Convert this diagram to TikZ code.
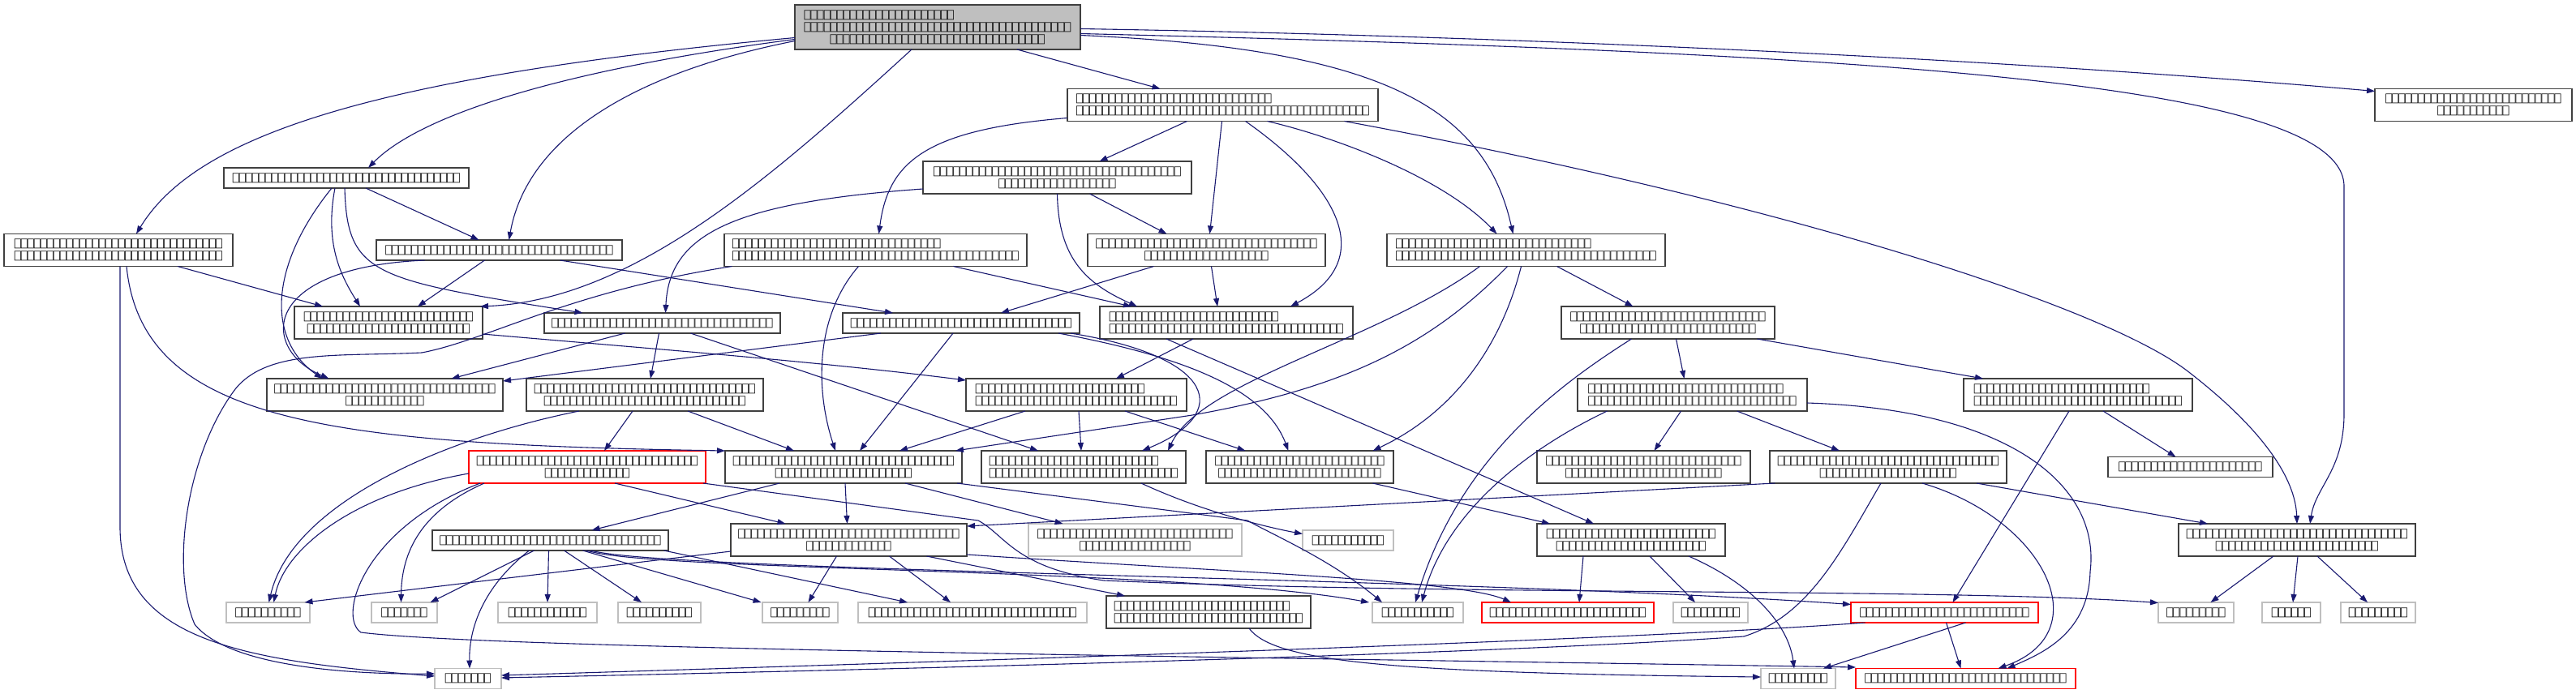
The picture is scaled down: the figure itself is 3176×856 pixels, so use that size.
\documentclass[tikz,border=0pt]{standalone}
\usepackage{fontspec}
\usepackage{xcolor}
\usepackage{tikz}
\usetikzlibrary{arrows.meta}
\newfontfamily\tofufont[FakeStretch=1.04]{DejaVu Sans Mono}
\definecolor{edgeblue}{RGB}{25,25,112}
\definecolor{nodeline}{RGB}{64,64,64}
\definecolor{sysline}{RGB}{191,191,191}
\definecolor{rootfill}{RGB}{191,191,191}
\definecolor{redline}{RGB}{255,0,0}
\newcommand\tofu[1]{\foreach\x in {1,...,#1}{⎕}}

\begin{document}
\begin{tikzpicture}[x=1pt, y=-1pt,
    hfile/.style={draw=nodeline, fill=white, line width=1.2pt, inner sep=0pt, outer sep=0pt,
                  minimum height=40, align=center, font=\tofufont\fontsize{12.8pt}{15pt}\selectfont},
    oneline/.style={minimum height=25},
    rootfile/.style={hfile, fill=rootfill},
    sysfile/.style={hfile, oneline, draw=sysline},
    redfile/.style={hfile, draw=redline},
    inc/.style={draw=edgeblue, line width=1.1pt, -{Triangle[length=10pt, width=7pt]}}
]
    \fill[white] (0,0) rectangle (3176,856);

    \node[rootfile, minimum width=352, minimum height=55, align=left] (root) at (1156,33.5) {\tofu{23}\\\tofu{41}\\\hspace*{32pt}\tofu{33}};
    \node[hfile, minimum width=383, align=left] (n1) at (1507.5,129.5) {\tofu{30}\\\tofu{45}};
    \node[hfile, minimum width=243] (n2) at (3049.5,129.5) {\tofu{27}\\\tofu{11}};
    \node[hfile, oneline, minimum width=302] (n3) at (427,219.5) {\tofu{35}};
    \node[hfile, minimum width=331] (n4) at (1303.5,219) {\tofu{38}\\\tofu{18}};
    \node[hfile, minimum width=282] (n5) at (146,308.5) {\tofu{32}\\\tofu{32}};
    \node[hfile, oneline, minimum width=303] (n6) at (615.5,308.5) {\tofu{35}};
    \node[hfile, minimum width=373, align=left] (n7) at (1079.5,308.5) {\tofu{32}\\\tofu{44}};
    \node[hfile, minimum width=293] (n8) at (1487.5,308.5) {\tofu{34}\\\tofu{19}};
    \node[hfile, minimum width=343, align=left] (n9) at (1881.5,308.5) {\tofu{30}\\\tofu{40}};
    \node[hfile, minimum width=232] (n10) at (479,398) {\tofu{26}\\\tofu{25}};
    \node[hfile, oneline, minimum width=291] (n11) at (816.5,398.5) {\tofu{34}};
    \node[hfile, oneline, minimum width=292] (n12) at (1185,398.5) {\tofu{34}};
    \node[hfile, minimum width=312, align=left] (n13) at (1512,398) {\tofu{26}\\\tofu{36}};
    \node[hfile, minimum width=263] (n14) at (2056.5,398) {\tofu{30}\\\tofu{27}};
    \node[hfile, minimum width=291] (n15) at (474.5,487) {\tofu{34}\\\tofu{12}};
    \node[hfile, minimum width=292] (n16) at (795,487) {\tofu{34}\\\tofu{31}};
    \node[hfile, minimum width=272, align=left] (n49) at (1327,487) {\tofu{26}\\\tofu{31}};
    \node[hfile, minimum width=283, align=left] (n48) at (2086.5,487) {\tofu{30}\\\tofu{32}};
    \node[hfile, minimum width=282, align=left] (n42) at (2562,487) {\tofu{27}\\\tofu{32}};
    \node[redfile, minimum width=292] (n17) at (724,576) {\tofu{34}\\\tofu{13}};
    \node[hfile, minimum width=292] (n24) at (1040,576) {\tofu{34}\\\tofu{21}};
    \node[hfile, minimum width=252, align=left] (n25) at (1336,576) {\tofu{26}\\\tofu{29}};
    \node[hfile, minimum width=231] (n26) at (1602.5,576) {\tofu{26}\\\tofu{25}};
    \node[hfile, minimum width=263] (n33) at (2026.5,576) {\tofu{30}\\\tofu{24}};
    \node[hfile, minimum width=292] (n34) at (2328,576) {\tofu{34}\\\tofu{21}};
    \node[hfile, oneline, minimum width=203] (n43) at (2700.5,576) {\tofu{22}};
    \node[hfile, oneline, minimum width=291] (n18) at (678.5,666.5) {\tofu{34}};
    \node[hfile, minimum width=291] (n27) at (1046.5,666) {\tofu{34}\\\tofu{13}};
    \node[hfile, draw=sysline, minimum width=263] (n28) at (1399.5,666) {\tofu{30}\\\tofu{17}};
    \node[sysfile, minimum width=112] (n32) at (1662,666.5) {\tofu{11}};
    \node[hfile, minimum width=232] (n35) at (2011,666) {\tofu{26}\\\tofu{23}};
    \node[hfile, minimum width=292] (n44) at (2832,666) {\tofu{34}\\\tofu{25}};
    \node[sysfile, minimum width=103] (n19) at (330.5,755.5) {\tofu{10}};
    \node[sysfile, minimum width=81] (n20) at (498.5,755.5) {\tofu{7}};
    \node[sysfile, minimum width=122] (n21) at (675,755.5) {\tofu{12}};
    \node[sysfile, minimum width=102] (n22) at (813,755.5) {\tofu{10}};
    \node[sysfile, minimum width=93] (n29) at (986.5,755.5) {\tofu{9}};
    \node[sysfile, minimum width=282] (n30) at (1199,755.5) {\tofu{32}};
    \node[hfile, minimum width=252, align=left] (n31) at (1490,755) {\tofu{27}\\\tofu{29}};
    \node[sysfile, minimum width=112] (n36) at (1748,755.5) {\tofu{11}};
    \node[redfile, oneline, minimum width=212] (n37) at (1933,755.5) {\tofu{24}};
    \node[sysfile, minimum width=92] (n38) at (2109,755.5) {\tofu{9}};
    \node[redfile, oneline, minimum width=231] (n39) at (2397.5,755.5) {\tofu{26}};
    \node[sysfile, minimum width=93] (n45) at (2707.5,755.5) {\tofu{9}};
    \node[sysfile, minimum width=72] (n46) at (2825,755.5) {\tofu{6}};
    \node[sysfile, minimum width=92] (n47) at (2932,755.5) {\tofu{9}};
    \node[sysfile, minimum width=82] (n23) at (577,837) {\tofu{7}};
    \node[sysfile, minimum width=92] (n40) at (2217,837) {\tofu{9}};
    \node[redfile, oneline, minimum width=271] (n41) at (2423.5,837) {\tofu{31}};

    \draw[inc] ([xshift=98]root.south) -- ([xshift=-77]n1.north);
    \draw[inc] ([yshift=-2]root.east) .. controls (1900,45) and (2500,75) .. ([yshift=17]n2.west);
    \draw[inc] ([yshift=-8]root.east) .. controls (2300,65) and (2890,100) .. (2890,230) -- (2890,510) .. controls (2890,580) and (2855,600) .. ([xshift=16]n44.north);
    \draw[inc] ([yshift=-10]root.east) .. controls (1700,60) and (1830,130) .. ([xshift=-16]n9.north);
    \draw[inc] ([yshift=-15]root.west) .. controls (700,85) and (520,140) .. ([xshift=27]n3.north);
    \draw[inc] ([yshift=-13]root.west) .. controls (450,95) and (240,170) .. ([xshift=22]n5.north);
    \draw[inc] ([yshift=-17]root.west) .. controls (780,90) and (650,170) .. ([xshift=12]n6.north);
    \draw[inc] ([xshift=-32]root.south) .. controls (950,220) and (780,370) .. ([xshift=113]n10.north);

    \draw[inc] ([xshift=-44]n1.south) -- ([xshift=52]n4.north);
    \draw[inc] ([xshift=-1]n1.south) -- ([xshift=4]n8.north);
    \draw[inc] ([yshift=-16]n1.west) .. controls (1140,160) and (1095,200) .. ([xshift=4]n7.north);
    \draw[inc] ([xshift=28]n1.south) .. controls (1650,230) and (1700,320) .. ([xshift=79]n13.north);
    \draw[inc] ([xshift=55]n1.south) .. controls (1650,170) and (1780,220) .. ([xshift=-36]n9.north);
    \draw[inc] ([xshift=150]n1.south) .. controls (2200,250) and (2600,380) .. (2700,460) .. controls (2790,530) and (2830,590) .. (n44.north);

    \draw[inc] ([xshift=24]n3.south) -- ([xshift=-25]n6.north);
    \draw[inc] ([xshift=-14]n3.south) .. controls (400,300) and (420,340) .. ([xshift=-35]n10.north);
    \draw[inc] ([xshift=-2]n3.south) .. controls (428,340) and (460,345) .. ([xshift=-98]n11.north);
    \draw[inc] ([xshift=-18]n3.south) .. controls (330,330) and (330,420) .. ([xshift=-77]n15.north);

    \draw[inc] ([xshift=40]n4.south) -- ([xshift=-49]n8.north);
    \draw[inc] (n4.south) .. controls (1305,320) and (1340,350) .. ([xshift=-110]n13.north);
    \draw[inc] ([yshift=-14]n4.west) .. controls (900,250) and (825,290) .. ([xshift=4]n11.north);

    \draw[inc] ([xshift=73]n5.south) -- ([xshift=-81]n10.north);
    \draw[inc] ([xshift=10]n5.south) .. controls (175,520) and (400,548) .. (n24.north west);
    \draw[inc] ([xshift=2]n5.south) -- (148,650) .. controls (148,790) and (300,815) .. ([yshift=3]n23.west);

    \draw[inc] ([xshift=-18]n6.south) -- ([xshift=36]n10.north);
    \draw[inc] ([xshift=75]n6.south) -- ([xshift=-84]n12.north);
    \draw[inc] ([xshift=-92]n6.south) .. controls (320,330) and (320,430) .. ([xshift=-69]n15.north);

    \draw[inc] ([xshift=96]n7.south) -- ([xshift=-117]n13.north);
    \draw[inc] ([xshift=-21]n7.south) .. controls (1005,390) and (1005,480) .. ([xshift=-10]n24.north);
    \draw[inc] ([xshift=-177]n7.south) .. controls (700,360) and (600,420) .. (520,435) .. controls (420,440) and (330,430) .. (290,480) .. controls (230,560) and (210,700) .. (240,770) .. controls (280,820) and (420,832) .. ([yshift=6]n23.west);

    \draw[inc] ([xshift=6]n8.south) -- ([xshift=-11]n13.north);
    \draw[inc] ([xshift=-65]n8.south) -- ([xshift=49]n12.north);

    \draw[inc] ([xshift=38]n9.south) -- ([xshift=-43]n14.north);
    \draw[inc] ([xshift=-6]n9.south) .. controls (1850,430) and (1790,510) .. ([xshift=90]n26.north);
    \draw[inc] ([xshift=-23]n9.south) .. controls (1760,430) and (1650,480) .. (1470,512) -- ([xshift=138]n24.north);
    \draw[inc] ([xshift=-57]n9.south) .. controls (1700,420) and (1480,470) .. ([xshift=104]n25.north);

    \draw[inc] ([yshift=-14]n10.east) .. controls (800,430) and (1000,445) .. ([yshift=18]n49.west);

    \draw[inc] ([xshift=-46]n11.south) -- ([xshift=82]n15.north);
    \draw[inc] ([xshift=-4]n11.south) -- ([xshift=7]n16.north);
    \draw[inc] ([xshift=35]n11.south) -- ([xshift=-56]n25.north);

    \draw[inc] ([xshift=-99]n12.south) -- ([yshift=17]n15.east);
    \draw[inc] ([xshift=-10]n12.south) -- ([xshift=20]n24.north);
    \draw[inc] ([xshift=135]n12.south) .. controls (1500,440) and (1520,510) .. ([xshift=72]n25.north);
    \draw[inc] ([xshift=120]n12.south) .. controls (1460,440) and (1560,480) .. ([xshift=-14]n26.north);

    \draw[inc] ([xshift=-41]n13.south) -- ([xshift=49]n49.north);
    \draw[inc] ([xshift=-74]n13.south) -- ([xshift=-46]n35.north);

    \draw[inc] ([xshift=-45]n14.south) .. controls (1930,470) and (1800,560) .. ([xshift=-3]n36.north);
    \draw[inc] ([xshift=110]n14.south) -- ([xshift=-117]n42.north);
    \draw[inc] ([xshift=10]n14.south) -- ([xshift=-10]n48.north);

    \draw[inc] ([xshift=-15]n16.south) -- ([xshift=21]n17.north);
    \draw[inc] ([xshift=-81]n16.south) .. controls (550,540) and (360,620) .. ([xshift=1]n19.north);
    \draw[inc] ([xshift=53]n16.south) -- ([xshift=-61]n24.north);

    \draw[inc] ([yshift=-8]n17.west) .. controls (430,610) and (350,680) .. ([xshift=7]n19.north);
    \draw[inc] ([xshift=-127]n17.south) .. controls (520,630) and (495,680) .. ([xshift=-4]n20.north);
    \draw[inc] ([xshift=34]n17.south) -- ([xshift=-78]n27.north);
    \draw[inc] ([xshift=-132]n17.south) .. controls (450,650) and (415,760) .. (445,780) .. controls (600,800) and (1500,810) .. ([yshift=14]n41.west);
    \draw[inc] ([xshift=143]n17.south) -- (1206,642) .. controls (1240,660) and (1250,700) .. (1361,716) .. controls (1800,735) and (2400,725) .. ([yshift=12]n45.west);

    \draw[inc] ([xshift=-20]n18.south) -- ([xshift=32]n20.north);
    \draw[inc] ([xshift=-2]n18.south) -- (n21.north);
    \draw[inc] ([xshift=17]n18.south) -- ([xshift=-22]n22.north);
    \draw[inc] ([xshift=-26]n18.south) .. controls (600,720) and (578,770) .. ([xshift=2]n23.north);
    \draw[inc] ([xshift=40]n18.south) -- ([xshift=-48]n29.north);
    \draw[inc] ([xshift=140]n18.south) -- ([xshift=-80]n30.north);
    \draw[inc] ([xshift=45]n18.south) .. controls (800,705) and (1450,700) .. ([xshift=-60]n36.north);
    \draw[inc] ([xshift=50]n18.south) .. controls (820,705) and (1800,712) .. ([yshift=10]n39.west);

    \draw[inc] ([xshift=-79]n24.south) -- ([xshift=51]n18.north);
    \draw[inc] ([xshift=2]n24.south) -- ([xshift=-2]n27.north);
    \draw[inc] ([xshift=76]n24.south) -- ([xshift=-89]n28.north);
    \draw[inc] ([xshift=140]n24.south) -- (1538,642) .. controls (1570,660) and (1640,690) .. ([xshift=-44]n36.north);

    \draw[inc] ([xshift=-63]n49.south) -- ([xshift=69]n24.north);
    \draw[inc] ([xshift=3]n49.south) -- ([xshift=-3]n25.north);
    \draw[inc] ([xshift=60]n49.south) -- ([xshift=-67]n26.north);

    \draw[inc] ([xshift=71]n25.south) .. controls (1480,630) and (1560,650) .. ([yshift=8]n32.west);
    \draw[inc] ([xshift=90]n26.south) -- ([xshift=-100]n35.north);

    \draw[inc] ([yshift=-14]n27.west) -- ([xshift=45]n19.north);
    \draw[inc] ([xshift=-15]n27.south) -- ([xshift=10]n29.north);
    \draw[inc] ([xshift=50]n27.south) -- ([xshift=-27]n30.north);
    \draw[inc] ([xshift=96]n27.south) -- ([xshift=-103]n31.north);
    \draw[inc] ([yshift=-18]n27.east) .. controls (1500,705) and (1800,715) .. ([xshift=-70]n37.north);

    \draw[inc] ([xshift=50]n31.south) .. controls (1570,815) and (1700,830) .. ([yshift=2]n40.west);

    \draw[inc] ([xshift=-140]n34.south) -- ([yshift=17]n27.east);
    \draw[inc] ([xshift=109]n34.south) -- ([xshift=-110]n44.north);
    \draw[inc] ([xshift=42]n34.south) .. controls (2520,640) and (2590,780) .. ([xshift=40]n41.north);
    \draw[inc] ([xshift=-9]n34.south) .. controls (2270,680) and (2230,760) .. (2150,785) .. controls (1800,810) and (900,830) .. ([yshift=1]n23.east);

    \draw[inc] ([xshift=-59]n35.south) -- ([xshift=14]n37.north);
    \draw[inc] ([xshift=23]n35.south) -- ([xshift=-19]n38.north);
    \draw[inc] ([xshift=71]n35.south) .. controls (2160,720) and (2205,770) .. ([xshift=-5]n40.north);

    \draw[inc] ([xshift=26]n39.south) -- ([xshift=31]n40.north);
    \draw[inc] ([xshift=2]n39.south) -- ([xshift=-6]n41.north);
    \draw[inc] ([xshift=-98]n39.south) .. controls (2000,790) and (1200,815) .. ([yshift=4]n23.east);

    \draw[inc] ([xshift=-11]n42.south) -- ([xshift=10]n39.north);
    \draw[inc] ([xshift=31]n42.south) -- ([xshift=-18]n43.north);

    \draw[inc] ([xshift=-29]n44.south) -- ([xshift=18]n45.north);
    \draw[inc] ([xshift=1]n44.south) -- ([xshift=2]n46.north);
    \draw[inc] ([xshift=25]n44.south) -- ([xshift=-13]n47.north);

    \draw[inc] ([xshift=-14]n48.south) -- ([xshift=13]n33.north);
    \draw[inc] ([xshift=55]n48.south) -- ([xshift=-60]n34.north);
    \draw[inc] ([xshift=-105]n48.south) .. controls (1870,560) and (1780,640) .. ([xshift=5]n36.north);
    \draw[inc] ([yshift=-10]n48.east) .. controls (2480,505) and (2590,600) .. (2577,705) .. controls (2575,780) and (2520,805) .. ([xshift=51]n41.north);
\end{tikzpicture}
\end{document}
